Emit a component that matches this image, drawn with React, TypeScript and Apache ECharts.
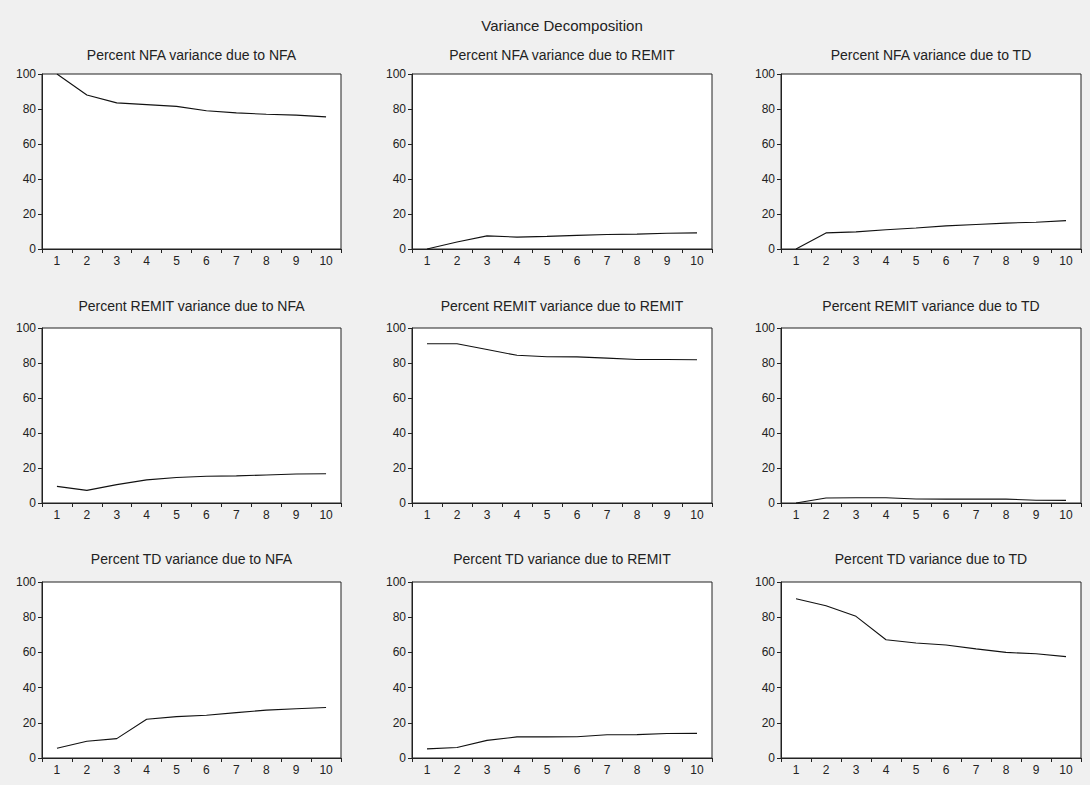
import React, { useEffect, useRef } from "react";
import * as echarts from "echarts";

// Forecast horizons (periods)
const periods = ["1", "2", "3", "4", "5", "6", "7", "8", "9", "10"];

// Panel titles, row by row
const panelTitles = [
  "Percent NFA variance due to NFA",
  "Percent NFA variance due to REMIT",
  "Percent NFA variance due to TD",
  "Percent REMIT variance due to NFA",
  "Percent REMIT variance due to REMIT",
  "Percent REMIT variance due to TD",
  "Percent TD variance due to NFA",
  "Percent TD variance due to REMIT",
  "Percent TD variance due to TD",
];

// Variance shares (%) per horizon
const nfaDueNfa = [100, 88, 83.5, 82.5, 81.5, 79, 77.8, 77, 76.5, 75.5];
const nfaDueRemit = [0, 4, 7.5, 6.8, 7.2, 7.8, 8.3, 8.5, 9, 9.2];
const nfaDueTd = [0, 9.2, 9.8, 11, 12, 13.2, 14, 14.8, 15.3, 16.2];
const remitDueNfa = [9.5, 7.2, 10.5, 13.2, 14.6, 15.3, 15.5, 16, 16.6, 16.7];
const remitDueRemit = [91, 91, 87.7, 84.4, 83.6, 83.5, 82.8, 82, 82, 81.9];
const remitDueTd = [0, 2.9, 3.0, 3.0, 2.3, 2.2, 2.2, 2.2, 1.6, 1.5];
const tdDueNfa = [5.5, 9.5, 11, 22, 23.5, 24.3, 25.8, 27.2, 28, 28.7];
const tdDueRemit = [5.2, 6, 10, 12, 12, 12.1, 13.2, 13.3, 13.9, 14];
const tdDueTd = [90.5, 86.5, 80.5, 67.2, 65.3, 64.2, 62, 60, 59.2, 57.6];

const panelData = [
  nfaDueNfa, nfaDueRemit, nfaDueTd,
  remitDueNfa, remitDueRemit, remitDueTd,
  tdDueNfa, tdDueRemit, tdDueTd,
];

const yTicks = { min: 0, max: 100, interval: 20 };

const FONT = "Liberation Sans, Arial, sans-serif";
const INK = "#222";

// Panel layout in pixels
const colLeft = [42, 412, 781];
const colWidth = [299, 300, 300];
const rowTop = [74, 328, 582];
const rowHeight = [175, 175, 176];
const rowTitleY = [55, 306, 559];

export default function App() {
  const ref = useRef<HTMLDivElement>(null);

  useEffect(() => {
    if (!ref.current) return;
    const chart = echarts.init(ref.current, undefined, { renderer: "svg" });

    const grids: any[] = [];
    const xAxes: any[] = [];
    const yAxes: any[] = [];
    const series: any[] = [];
    const titles: any[] = [
      {
        text: "Variance Decomposition",
        left: 562,
        top: 18,
        padding: 0,
        textAlign: "center",
        textStyle: { fontFamily: FONT, fontSize: 15, fontWeight: "normal", color: INK },
      },
    ];

    panelData.forEach((values, i) => {
      const r = Math.floor(i / 3);
      const c = i % 3;
      const left = colLeft[c];
      const top = rowTop[r];
      const width = colWidth[c];
      const height = rowHeight[r];
      grids.push({
        left,
        top,
        width,
        height,
        show: true,
        backgroundColor: "#ffffff",
        borderColor: "#222",
        borderWidth: 1,
        containLabel: false,
      });
      titles.push({
        text: panelTitles[i],
        left: left + width / 2,
        top: rowTitleY[r] - 7,
        padding: 0,
        textAlign: "center",
        textStyle: { fontFamily: FONT, fontSize: 14, fontWeight: "normal", color: INK },
      });
      xAxes.push({
        type: "category",
        gridIndex: i,
        data: periods,
        boundaryGap: true,
        axisLine: { show: true, lineStyle: { color: "#222", width: 1 } },
        axisTick: { show: true, length: 4, lineStyle: { color: "#222" } },
        axisLabel: { fontFamily: FONT, fontSize: 12, color: INK, margin: 6 },
        splitLine: { show: false },
      });
      yAxes.push({
        type: "value",
        gridIndex: i,
        min: yTicks.min,
        max: yTicks.max,
        interval: yTicks.interval,
        axisLine: { show: true, lineStyle: { color: "#222", width: 1 } },
        axisTick: { show: true, length: 4, lineStyle: { color: "#222" } },
        axisLabel: { fontFamily: FONT, fontSize: 12, color: INK, margin: 6 },
        splitLine: { show: false },
      });
      series.push({
        type: "line",
        xAxisIndex: i,
        yAxisIndex: i,
        data: values,
        showSymbol: false,
        symbol: "none",
        lineStyle: { color: "#111", width: 1.1 },
        silent: true,
      });
    });

    chart.setOption({
      animation: false,
      backgroundColor: "#f0f0f0",
      title: titles,
      grid: grids,
      xAxis: xAxes,
      yAxis: yAxes,
      series,
    });

    return () => chart.dispose();
  }, []);

  return (
    <div
      ref={ref}
      style={{ position: "absolute", left: 0, top: 0, width: 1090, height: 785 }}
    />
  );
}
